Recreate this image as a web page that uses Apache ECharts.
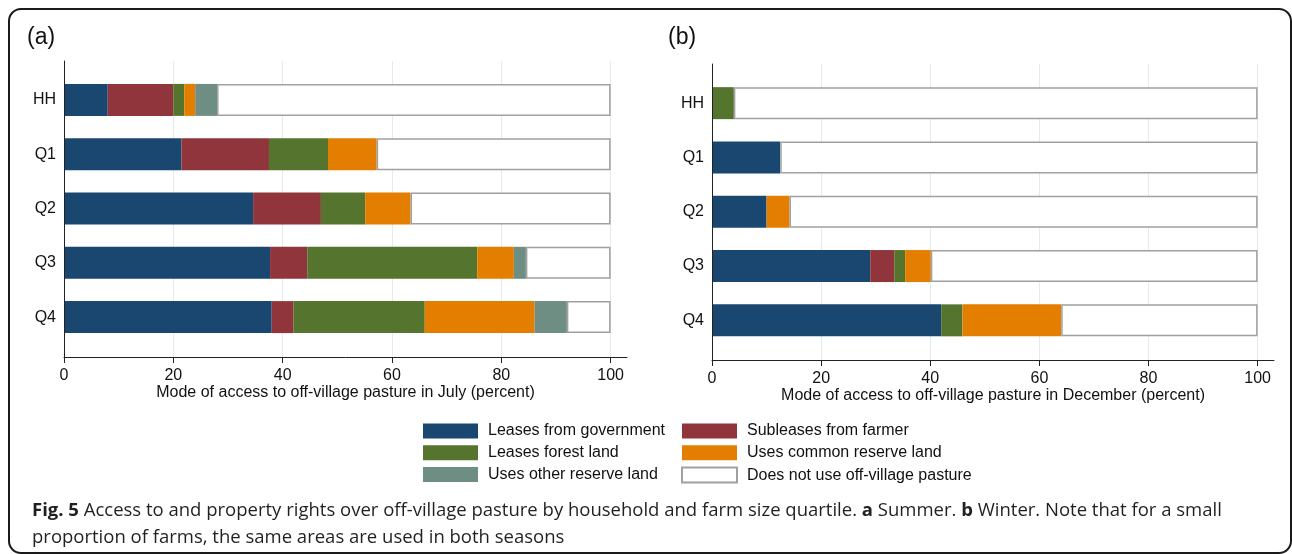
<!DOCTYPE html>
<html>
<head>
<meta charset="utf-8">
<script src="https://cdn.jsdelivr.net/npm/echarts@6/dist/echarts.min.js"></script>
<style>html,body{margin:0;padding:0;background:#fff;}#c{width:1292px;height:554px;}</style>
</head>
<body>
<div id="c"></div>
<script>
const categories = ['HH', 'Q1', 'Q2', 'Q3', 'Q4'];
const tickValues = [0, 20, 40, 60, 80, 100];
const seriesNames = ['Leases from government', 'Subleases from farmer', 'Leases forest land', 'Uses common reserve land', 'Uses other reserve land', 'Does not use off-village pasture'];

// Panel (a): July
const julyGov = [8, 21.5, 34.6, 37.7, 38];
const julySub = [12, 16, 12.4, 6.8, 4];
const julyForest = [2, 10.8, 8.1, 31.1, 24];
const julyCommon = [2, 8.9, 8.3, 6.7, 20.1];
const julyOther = [4, 0, 0, 2.2, 5.9];
const julyNone = [72, 42.8, 36.6, 15.5, 8];

// Panel (b): December
const decGov = [0, 12.5, 10, 29, 42];
const decSub = [0, 0, 0, 4.4, 0];
const decForest = [4, 0, 0, 2, 3.9];
const decCommon = [0, 0, 4.2, 4.7, 18.1];
const decOther = [0, 0, 0, 0, 0];
const decNone = [96, 87.5, 85.8, 59.9, 36];

const colors = ['#1a476f', '#90353b', '#55752f', '#e37e00', '#6e8e84', '#ffffff'];
const FONT = 'Liberation Sans, Arial, sans-serif';

const chart = echarts.init(document.getElementById('c'), null, {renderer: 'canvas'});

function axisX(gridIndex, name) {
  return {
    gridIndex, type: 'value', min: 0, max: 103,
    axisLine: {show: true, onZero: false, lineStyle: {color: '#222', width: 1}},
    axisTick: {show: true, length: 6, customValues: tickValues, lineStyle: {color: '#222', width: 1}},
    axisLabel: {customValues: tickValues, fontSize: 16, color: '#111', margin: 11, fontFamily: FONT},
    splitLine: {show: true, lineStyle: {color: '#e6eaea', width: 1}},
    name, nameLocation: 'middle', nameGap: 28, nameMoveOverlap: false,
    nameTextStyle: {fontSize: 16, color: '#111', fontFamily: FONT}
  };
}
function axisY(gridIndex) {
  return {
    gridIndex, type: 'value', min: 0, max: 1, z: 10,
    axisLine: {show: true, lineStyle: {color: '#222', width: 1}},
    axisTick: {show: false}, axisLabel: {show: false}, splitLine: {show: false}
  };
}
function barX(gridIndex) {
  return {gridIndex, type: 'value', min: 0, max: 103, show: false};
}
function barY(gridIndex) {
  return {
    gridIndex, type: 'category', data: categories, inverse: true,
    axisLine: {show: false}, axisTick: {show: false}, splitLine: {show: false},
    axisLabel: {fontSize: 16, color: '#111', margin: 8, fontFamily: FONT}
  };
}

function makeSeries(dataArrays, axisIndex, stack) {
  return dataArrays.map((d, i) => ({
    name: seriesNames[i], type: 'bar', stack,
    xAxisIndex: axisIndex, yAxisIndex: axisIndex,
    data: d, barWidth: 32,
    itemStyle: i === 5 ? {color: colors[i], borderColor: '#a0a0a0', borderWidth: 1.5} : {color: colors[i]},
    silent: true
  }));
}

const legendCommon = {
  orient: 'vertical', top: 418, itemWidth: 55, itemHeight: 15, itemGap: 5.8,
  icon: 'rect', selectedMode: false,
  textStyle: {fontSize: 16, color: '#111', fontFamily: FONT, padding: [0, 0, 0, 5]}
};

const option = {
  animation: false,
  backgroundColor: '#fff',
  title: [
    {text: '(a)', left: 22, top: 21, textStyle: {fontSize: 23, fontWeight: 'normal', color: '#111', fontFamily: FONT}},
    {text: '(b)', left: 663, top: 21, textStyle: {fontSize: 23, fontWeight: 'normal', color: '#111', fontFamily: FONT}}
  ],
  grid: [
    {left: 64, top: 61, width: 563, height: 296},
    {left: 64, top: 72.75, width: 563, height: 271.5},
    {left: 712, top: 64, width: 562, height: 296},
    {left: 712, top: 76, width: 562, height: 271.5}
  ],
  xAxis: [
    axisX(0, 'Mode of access to off-village pasture in July (percent)'),
    barX(1),
    axisX(2, 'Mode of access to off-village pasture in December (percent)'),
    barX(3)
  ],
  yAxis: [axisY(0), barY(1), axisY(2), barY(3)],
  legend: [
    Object.assign({}, legendCommon, {left: 418, data: [seriesNames[0], seriesNames[2], seriesNames[4]]}),
    Object.assign({}, legendCommon, {left: 676, data: [seriesNames[1], seriesNames[3], seriesNames[5]]})
  ],
  series: [
    ...makeSeries([julyGov, julySub, julyForest, julyCommon, julyOther, julyNone], 1, 'july'),
    ...makeSeries([decGov, decSub, decForest, decCommon, decOther, decNone], 3, 'dec')
  ],
  graphic: [
    {
      type: 'rect', silent: true, z: 100,
      shape: {x: 9, y: 9, width: 1282, height: 544, r: 12},
      style: {fill: 'none', stroke: '#1a1a1a', lineWidth: 2}
    },
    {
      type: 'text', silent: true, left: 32, top: 497,
      style: {
        text: '{b|Fig. 5} Access to and property rights over off-village pasture by household and farm size quartile. {b|a} Summer. {b|b} Winter. Note that for a small\nproportion of farms, the same areas are used in both seasons',
        fontFamily: 'Open Sans, sans-serif', fontSize: 18.5, fill: '#231f20', lineHeight: 27,
        rich: {b: {fontFamily: 'Open Sans, sans-serif', fontSize: 18.5, fontWeight: 'bold', fill: '#231f20', lineHeight: 27}}
      }
    }
  ]
};
chart.setOption(option);
</script>
</body>
</html>
